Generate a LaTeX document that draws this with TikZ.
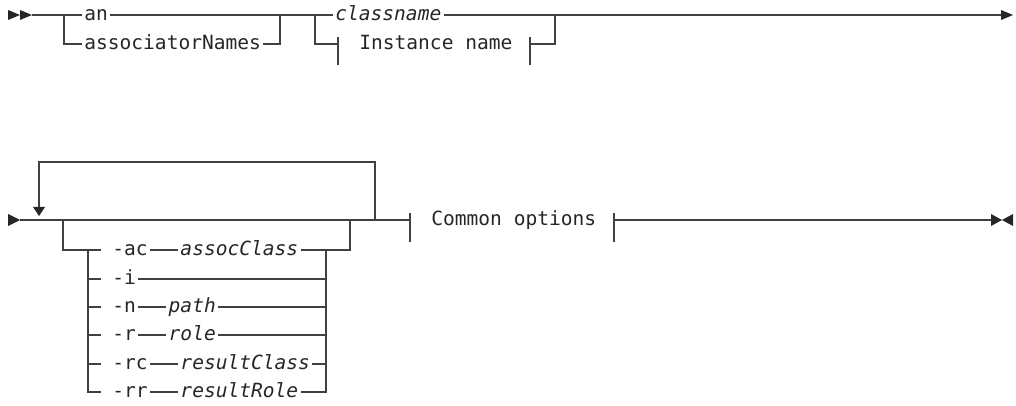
\documentclass[tikz,border=0pt]{standalone}
\usepackage{fontspec}
\setmonofont{DejaVu Sans Mono}
\usetikzlibrary{positioning,calc}

\tikzset{
  rail/.style={draw=black!75, line width=0.85pt},
  lbl/.style={font=\ttfamily\fontsize{13.9}{16}\selectfont, text=black!85,
    inner xsep=1.5pt, inner ysep=0pt, text height=7.6pt, text depth=0pt, anchor=west},
  var/.style={lbl, font=\ttfamily\itshape\fontsize{13.9}{16}\selectfont},
  tip/.style={fill=black!85},
}

\begin{document}
\begin{tikzpicture}[x=0.025cm, y=-0.025cm]
\useasboundingbox (0,0) rectangle (1016,406);

% first line
\fill[tip] (8,10) -- (20,15) -- (8,20) -- cycle (20,10) -- (32,15) -- (20,20) -- cycle;
\node[lbl] (an) at (82,15) {an};
\node[lbl] (assoc) at (82,44) {associatorNames};
\node[var] (cls) at (333,15) {classname};
\node[lbl] (inst) at (357,44) {Instance name};
\coordinate (s1) at (32,15);
\coordinate (e1) at (1001,15);
\draw[rail] (s1) -- (an) (an) -- (cls) (cls) -- (e1);
\draw[rail] (64,15) |- (assoc);
\draw[rail] (assoc) -| (280,15);
\draw[rail] (315,15) |- (338,44);
\draw[rail] (338,37) -- (338,65) (530,37) -- (530,65);
\draw[rail] (530,44) -| (555,15);
\fill[tip] (1001,10) -- (1013,15) -- (1001,20) -- cycle;

% second line
\fill[tip] (8,214) -- (20,220) -- (8,226) -- cycle;
\node[lbl] (common) at (429,220) {Common options};
\coordinate (s2) at (20,220);
\coordinate (e2) at (991,220);
\draw[rail] (s2) -- (410,220);
\draw[rail] (410,213) -- (410,242) (614,213) -- (614,242);
\draw[rail] (614,220) -- (e2);
\fill[tip] (991,214) -- (1002,220) -- (991,226) -- cycle
  (1013,214) -- (1002,220) -- (1013,226) -- cycle;
% repeat
\draw[rail] (375,220) |- (39,162) -- (39,207);
\fill[tip] (33,207) -- (45,207) -- (39,216) -- cycle;

% options
\foreach \y/\nm/\opt/\val in {250/ac/-ac/assocClass, 307/n/-n/path, 335/r/-r/role,
    364/rc/-rc/resultClass, 392/rr/-rr/resultRole} {
  \node[lbl] (o\nm) at (110,\y) {\opt};
  \node[var, right=0.7cm of o\nm] (v\nm) {\val};
  \draw[rail] (o\nm) -- (v\nm);
}
\node[lbl] (oi) at (110,279) {-i};
\draw[rail, shorten >=0.22cm] (63,220) |- (oac);
\draw[rail, shorten >=0.22cm] (88,250) |- (orr);
\foreach \y/\nm in {279/i, 307/n, 335/r, 364/rc}
  \draw[rail, shorten >=0.22cm] (88,\y) -- (o\nm);
\draw[rail] (vac) -| (350,220);
\draw[rail] (vrr) -| (326,250);
\draw[rail] (oi) -- (326,279);
\foreach \y/\nm in {307/n, 335/r, 364/rc}
  \draw[rail] (v\nm) -- (326,\y);
\end{tikzpicture}
\end{document}
